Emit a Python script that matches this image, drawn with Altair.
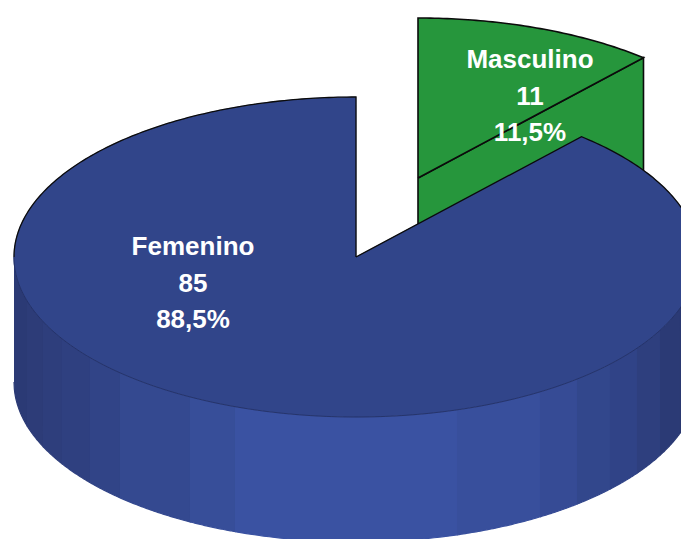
import numpy as np
import pandas as pd
import altair as alt

categories = ["Femenino", "Masculino"]
counts = [85, 11]
percent_labels = ["88,5%", "11,5%"]

CX, CY, A, B = 356, 257, 342, 160     # pie centre and radii, in image pixels
DEPTH = 125 / B
EXPLODE = (62 / A, 79 / B)

BLUE_TOP = "#31458a"
GREEN = "#26963c"
strip_edges_px = [13, 27, 43, 62, 90, 120, 190, 235, 457, 540, 577, 610, 637, 660, 680, 698]
strip_colors = ["#2b3a75", "#2d3c78", "#2e3e7c", "#2f4080", "#314487", "#344990", "#374e99",
                "#3a52a2", "#384f9c", "#364b95", "#32478c", "#304387", "#2e3f7e", "#2b3a75", "#2a3870"]

share = counts[1] / sum(counts)
sweep = share * 2 * np.pi


def arc(t0, t1, n=160):
    t = np.linspace(t0, t1, n)
    return np.sin(t), np.cos(t)


rows = []


def poly(name, xs, ys, fill, stroke, width=1.0):
    for i, (x, y) in enumerate(zip(xs, ys)):
        rows.append(dict(poly=name, i=i, x=float(x), y=float(y), fill=fill, stroke=stroke, sw=width))


gx, gy = arc(0, sweep, 60)
ex, ey = EXPLODE
gend = (gx[-1] + ex, gy[-1] + ey)
poly("a_green_wall", [ex, gend[0], gend[0], ex, ex], [ey, gend[1], gend[1] - DEPTH, ey - DEPTH, ey], GREEN, "#0b0b0b", 1.6)
poly("b_green_top", np.r_[ex, gx + ex, ex], np.r_[ey, gy + ey, ey], GREEN, "#0b0b0b", 1.6)

for k, col in enumerate(strip_colors):
    x0 = (strip_edges_px[k] - CX) / A
    x1 = min((strip_edges_px[k + 1] - CX) / A, 1)
    xs = np.linspace(max(x0, -1), x1, 40)
    top = -np.sqrt(np.clip(1 - xs ** 2, 0, 1))
    poly(f"c_strip{k:02d}", np.r_[xs, xs[::-1]], np.r_[top, (top - DEPTH)[::-1]], col, col, 1.2)

bx, by = arc(sweep, 2 * np.pi, 400)
poly("d_blue_top", np.r_[0, bx, 0], np.r_[0, by, 0], BLUE_TOP, BLUE_TOP, 0.5)

bx1, by1 = arc(sweep, np.pi / 2, 60)
bx2, by2 = arc(1.5 * np.pi, 2 * np.pi, 120)
poly("e_line_back_r", np.r_[0, bx1], np.r_[0, by1], "none", "#0b0b0b", 1.3)
poly("f_line_back_l", np.r_[bx2, 0, 0], np.r_[by2, 0, 0], "none", "#0b0b0b", 1.3)
fx, fy = arc(np.pi / 2, 1.5 * np.pi, 200)
poly("g_line_front", fx, fy, "none", "#212c5c", 0.7)

df = pd.DataFrame(rows)

x_scale = alt.Scale(domain=[(8 - CX) / A, (681 - CX) / A], nice=False, zero=False)
y_scale = alt.Scale(domain=[(CY - 539) / B, (CY - 8) / B], nice=False, zero=False)
X = alt.X("x:Q", scale=x_scale, axis=None)
Y = alt.Y("y:Q", scale=y_scale, axis=None)

shapes = alt.Chart(df).mark_line(clip=True, strokeJoin="miter", interpolate="linear").encode(
    x=X,
    y=Y,
    order="i:Q",
    detail="poly:N",
    fill=alt.Fill("fill:N", scale=None),
    stroke=alt.Stroke("stroke:N", scale=None),
    strokeWidth=alt.StrokeWidth("sw:Q", scale=None),
)

label_pos = {"Femenino": ((193 - CX) / A, (CY - 247) / B), "Masculino": ((530 - CX) / A, (CY - 60) / B)}
LINE = 36.5 / B
lab = []
for c, n, p in zip(categories, counts, percent_labels):
    lx, ly = label_pos[c]
    for j, t in enumerate([c, str(n), p]):
        lab.append(dict(x=lx, y=ly - j * LINE, t=t))
labels = alt.Chart(pd.DataFrame(lab)).mark_text(
    font="Liberation Sans", fontWeight="bold", fontSize=26, color="white",
    align="center", baseline="middle",
).encode(x=X, y=Y, text="t:N")

chart = alt.layer(shapes, labels).properties(
    width=673, height=531, padding=0, autosize=alt.AutoSizeParams(type="none"), background="white"
).configure_view(stroke=None)

chart.save("out.html", embed_options={"renderer": "svg", "actions": False})
